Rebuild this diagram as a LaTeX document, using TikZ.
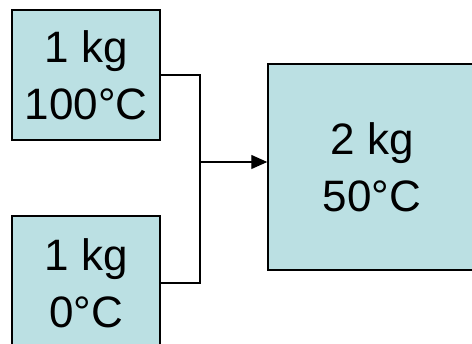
\documentclass[tikz,border=0pt]{standalone}
\usepackage{fontspec}
\setmainfont{Liberation Sans}
\usepackage{tikz}
\usetikzlibrary{arrows.meta, positioning}
\definecolor{boxfill}{HTML}{BBE0E3}

\begin{document}
\begin{tikzpicture}[x=1pt,y=-1pt]
\tikzstyle{mass} = [rectangle, draw=black, line width=1.5pt, fill=boxfill, align=center, inner sep=0pt, font=\fontsize{44}{57}\selectfont]
\tikzstyle{pipe} = [line width=1.3pt]
\tikzstyle{arrow} = [line width=1.3pt,-{Triangle[length=16pt,width=14pt]}]

\useasboundingbox (0,0) rectangle (472,344);
\clip (0,0) rectangle (472,344);

\node (hot) [mass, minimum width=148pt, minimum height=130pt] at (86,75) {1 kg\\100°C};
\node (cold) [mass, minimum width=148pt, minimum height=134pt] at (86,283) {1 kg\\0°C};
\node (mix) [mass, minimum width=208pt, minimum height=206pt] at (372,167) {2 kg\\50°C};
\coordinate (join) at (200,162);

\draw [pipe] (hot.east) -| (join) |- (cold.east);
\draw [arrow] (join) -- (join -| mix.west);
\end{tikzpicture}
\end{document}
